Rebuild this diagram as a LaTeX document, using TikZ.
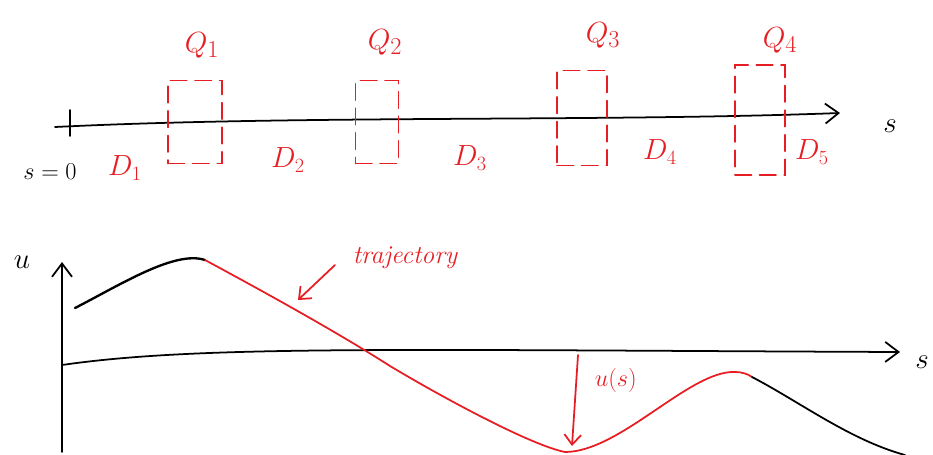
\documentclass[tikz,border=0pt]{standalone}
\usepackage{tikz}
\usetikzlibrary{arrows.meta, positioning}
\definecolor{pen}{RGB}{230, 30, 35}

\begin{document}
\begin{tikzpicture}[x=0.03cm, y=-0.03cm, line width=1.5pt, line cap=round,
        axis/.style={draw=black, -{Straight Barb[length=4mm, width=6mm]}},
        qbox/.style={rectangle, draw=pen, dashed, dash pattern=on 14pt off 7pt, inner sep=0pt},
        qlab/.style={text=pen, font=\fontsize{28}{30}\selectfont},
        dlab/.style={text=pen, font=\fontsize{24}{26}\selectfont},
        blab/.style={text=black, font=\fontsize{26}{28}\selectfont},
        rlab/.style={text=pen, font=\fontsize{22}{24}\selectfont\itshape}]
    \useasboundingbox (0,0) rectangle (933,455);

    % upper axis
    \coordinate (s0) at (55,127);
    \coordinate (s1) at (840,113);
    \draw[axis] (s0) .. controls (300,115) and (600,122) .. (s1);
    \draw (70,110) -- (70,136);
    \node[blab] (sax) at (890,126) {$s$};
    \node[blab, font=\fontsize{20}{22}\selectfont] (szero) at (50,172) {$s=0$};

    % dashed boxes
    \foreach \n/\x/\y/\w/\h in {1/195/122/1.62/2.49, 2/377/122/1.29/2.49,
                                3/582/118/1.50/2.85, 4/760/120/1.50/3.30}
        \node[qbox, minimum width=\w cm, minimum height=\h cm] (q\n) at (\x,\y) {};
    \node[qlab] (lq1) at (202,45) {$Q_1$};
    \node[qlab] (lq2) at (385,42) {$Q_2$};
    \node[qlab] (lq3) at (603,35) {$Q_3$};
    \node[qlab] (lq4) at (780,40) {$Q_4$};

    \foreach \n/\x/\y in {1/125/168, 2/288/160, 3/470/158, 4/660/152, 5/812/152}
        \node[dlab] (d\n) at (\x,\y) {$D_\n$};

    % lower axes
    \coordinate (o) at (62,365);
    \coordinate (uend) at (62,262);
    \coordinate (send) at (900,352);
    \draw (62,452) -- (o);
    \draw[axis] (o) -- (uend);
    \draw[axis] (o) .. controls (200,345) and (400,350) .. (send);
    \node[blab] (uax) at (22,262) {$u$};
    \node[blab] (sax2) at (922,362) {$s$};

    % curve
    \draw[line width=2pt] (75,308) .. controls (120,285) and (175,250) .. (205,260);
    \draw[pen] (205,260) .. controls (270,295) and (340,334) .. (390,366)
        .. controls (440,396) and (530,445) .. (565,452)
        .. controls (620,452) and (690,370) .. (735,372)
        .. controls (742,372) and (748,374) .. (752,377);
    \draw (752,377) .. controls (800,402) and (850,440) .. (905,455);

    % labels on the curve
    \node[rlab, anchor=west] (traj) at (348,258) {trajectory};
    \coordinate (tp) at (298,300);
    \draw[pen, -{Straight Barb[length=3mm, width=5mm]}] (335,265) -- (tp);
    \coordinate (ua) at (578,355);
    \coordinate (ub) at (572,446);
    \draw[pen, -{Straight Barb[length=3mm, width=5mm]}] (ua) -- (ub);
    \node[rlab, anchor=west] (us) at (590,380) {$u(s)$};
\end{tikzpicture}
\end{document}
